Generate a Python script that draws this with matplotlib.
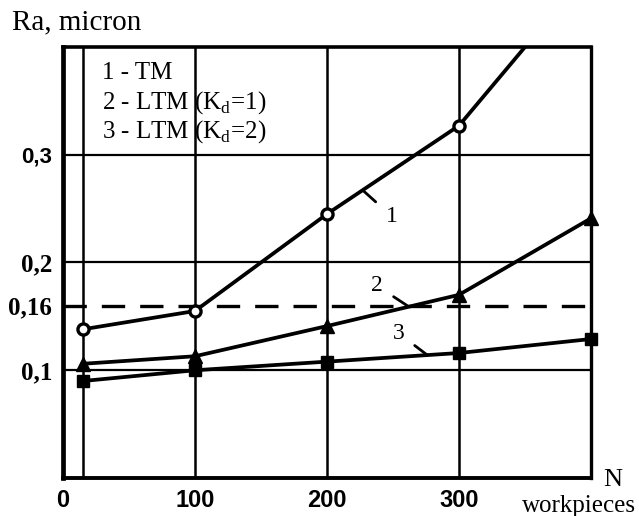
import numpy as np
import matplotlib
matplotlib.use("Agg")
import matplotlib.pyplot as plt

# N, workpieces
n_pts = [15, 100, 200, 300, 400]
# Ra, micron
ra_tm = [0.138, 0.155, 0.245, 0.327, 0.473]
ra_ltm_kd1 = [0.106, 0.113, 0.141, 0.170, 0.241]
ra_ltm_kd2 = [0.090, 0.100, 0.108, 0.116, 0.129]
ra_limit = 0.16

x_ticks = [0, 100, 200, 300]
x_ticklabels = ["0", "100", "200", "300"]
y_ticks = [0.1, 0.16, 0.2, 0.3]
y_ticklabels = ["0,1", "0,16", "0,2", "0,3"]
legend_lines = ["1 - TM",
                "2 - LTM (K$_{\\mathregular{d}}$=1)",
                "3 - LTM (K$_{\\mathregular{d}}$=2)"]

serif = "Liberation Serif"
plt.rcParams["mathtext.fontset"] = "custom"
plt.rcParams["mathtext.rm"] = serif

fig = plt.figure(figsize=(6.39, 5.16), dpi=100)
ax = fig.add_axes([63 / 639, 1 - 478 / 516, 528 / 639, 431 / 516])
ax.set_xlim(0, 400)
ax.set_ylim(0, 0.4)

# grid: vertical at measured N, horizontal at 0.1/0.2/0.3
for xv in n_pts[:-1]:
    ax.axvline(xv, color="black", lw=1.8, zorder=1)
for yv in [0.1, 0.2, 0.3]:
    ax.axhline(yv, color="black", lw=1.6, zorder=1)
ax.axhline(ra_limit, color="black", lw=2.4, dashes=(7, 4.5), zorder=1)

ax.plot(n_pts, ra_tm, color="black", lw=2.7, marker="o", ms=8,
        mfc="white", mec="black", mew=2.4, zorder=3)
ax.plot(n_pts, ra_ltm_kd1, color="black", lw=2.7, marker="^", ms=10,
        mfc="black", mec="black", zorder=3, clip_on=False)
ax.plot(n_pts, ra_ltm_kd2, color="black", lw=2.7, marker="s", ms=9,
        mfc="black", mec="black", zorder=3, clip_on=False)

# curve labels with leader lines
def leader(label, series, xv, dx, dy):
    yv = np.interp(xv, n_pts, series)
    ax.annotate(label, xy=(xv, yv), xytext=(dx, dy), textcoords="offset pixels",
                fontsize=17, family=serif, ha="center", va="center",
                arrowprops=dict(arrowstyle="-", color="black", lw=2.0,
                                shrinkA=7, shrinkB=0))

leader("1", ra_tm, 227, 29, -26)
leader("2", ra_ltm_kd1, 262, -32, 21)
leader("3", ra_ltm_kd2, 276, -29, 22)

for i, t in enumerate(legend_lines):
    ax.text(0.074, 0.940 - i * 0.068, t, transform=ax.transAxes,
            fontsize=18, family=serif, ha="left", va="center")

ax.set_xticks(x_ticks)
ax.set_xticklabels(x_ticklabels, fontsize=17, fontweight="bold",
                   family="Liberation Sans")
ax.set_yticks(y_ticks)
ax.set_yticklabels(y_ticklabels, fontsize=18, fontweight="bold", family=serif)
ax.get_yticklabels()[-1].set_family("Liberation Sans")
ax.get_yticklabels()[-1].set_fontsize(16)
ax.tick_params(length=0, pad=8)

ax.spines["left"].set_linewidth(3.4)
ax.spines["bottom"].set_linewidth(2.8)
ax.spines["top"].set_linewidth(2.6)
ax.spines["right"].set_linewidth(2.4)

fig.text(12 / 639, 1 - 22 / 516, "Ra, micron", fontsize=21, family=serif,
         ha="left", va="center")
fig.text(613 / 639, 1 - 480 / 516, "N", fontsize=19, family=serif,
         ha="center", va="center")
fig.text(522 / 639, 1 - 506 / 516, "workpieces", fontsize=18, family=serif,
         ha="left", va="center")

fig.savefig("out.png", dpi=100)
